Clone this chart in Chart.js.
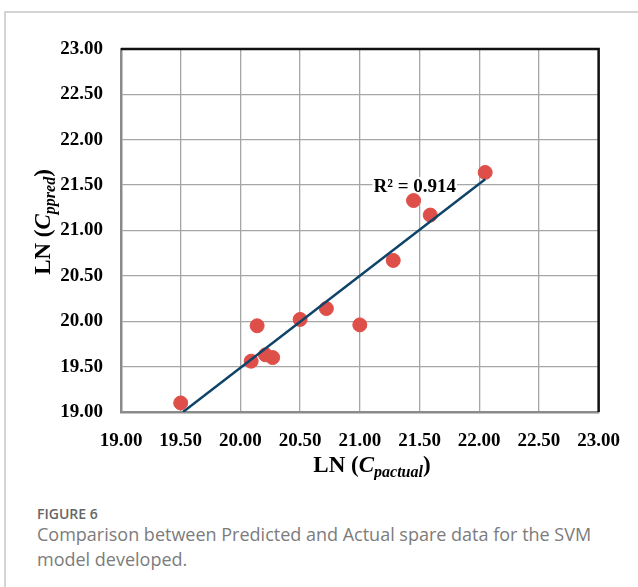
<!DOCTYPE html>
<html>
<head>
<meta charset="utf-8">
<script src="https://cdn.jsdelivr.net/npm/chart.js@4.4.1/dist/chart.umd.min.js"></script>
<style>
  html, body { margin: 0; padding: 0; background: #fff; }
  body { width: 638px; height: 587px; position: relative; overflow: hidden; }
  .frame { position: absolute; left: 4px; top: 11px; width: 700px; height: 700px;
           border-left: 2px solid #d4d4d4; border-top: 2px solid #d4d4d4; }
  .chart-box { position: absolute; left: 0; top: 0; width: 638px; height: 480px; }
  .cap { position: absolute; left: 37px; font-family: "Open Sans", "Noto Sans", sans-serif; }
  .fig { top: 504px; font-size: 14px; font-weight: 600; color: #666; }
  .txt { top: 522px; font-size: 18px; line-height: 25px; color: #7c7c7c; width: 590px; }
</style>
</head>
<body>
<div class="frame"></div>
<div class="chart-box"><canvas id="my-chart" width="638" height="480"></canvas></div>
<div class="cap fig">FIGURE 6</div>
<div class="cap txt">Comparison between Predicted and Actual spare data for the SVM model developed.</div>
<script>
// LN(C_pactual) vs LN(C_ppred)
let actual = [19.50, 20.09, 20.14, 20.21, 20.27, 20.50, 20.72, 21.00, 21.28, 21.45, 21.59, 22.05];
let predicted = [19.10, 19.56, 19.95, 19.63, 19.60, 20.02, 20.14, 19.96, 20.67, 21.33, 21.17, 21.64];
let tickValues = [19, 19.5, 20, 20.5, 21, 21.5, 22, 22.5, 23];
let r2Label = 'R² = 0.914';

// linear trend line (least squares)
let n = actual.length;
let mx = actual.reduce((a, b) => a + b, 0) / n;
let my = predicted.reduce((a, b) => a + b, 0) / n;
let sxy = 0, sxx = 0;
for (let i = 0; i < n; i++) {
    sxy += (actual[i] - mx) * (predicted[i] - my);
    sxx += (actual[i] - mx) ** 2;
}
let slope = sxy / sxx;
let icpt = my - slope * mx;
let xStart = (19 - icpt) / slope;
let xEnd = Math.max(...actual);
let trend = [{ x: xStart, y: 19 }, { x: xEnd, y: icpt + slope * xEnd }];

let serif = '"Liberation Serif", "Times New Roman", serif';

const extras = {
    id: 'extras',
    beforeDatasetsDraw(chart) {
        const { ctx, scales: { x, y } } = chart;
        // R² label with white box
        ctx.save();
        ctx.font = 'bold 19px ' + serif;
        let w = ctx.measureText(r2Label).width;
        let cx = x.getPixelForValue(21.46), cy = y.getPixelForValue(21.48);
        ctx.fillStyle = '#fff';
        ctx.fillRect(cx - w / 2 - 1, cy - 10, w + 2, 20);
        ctx.fillStyle = '#000';
        ctx.textAlign = 'center';
        ctx.textBaseline = 'middle';
        ctx.fillText(r2Label, cx, cy);
        ctx.restore();
    },
    afterDraw(chart) {
        const { ctx, chartArea: a } = chart;
        ctx.save();
        // top and right border
        ctx.strokeStyle = '#111';
        ctx.lineWidth = 2.5;
        ctx.beginPath();
        ctx.moveTo(a.left, a.top);
        ctx.lineTo(a.right, a.top);
        ctx.lineTo(a.right, a.bottom);
        ctx.stroke();

        // axis titles with subscripts
        ctx.fillStyle = '#000';
        ctx.textBaseline = 'alphabetic';
        function title(main, sub, cx, cy) {
            ctx.font = 'bold 23px ' + serif;
            let w1 = ctx.measureText(main).width;
            ctx.font = 'italic bold 23px ' + serif;
            let w2 = ctx.measureText('C').width;
            ctx.font = 'italic bold 16px ' + serif;
            let w3 = ctx.measureText(sub).width;
            ctx.font = 'bold 23px ' + serif;
            let w4 = ctx.measureText(')').width;
            let x0 = cx - (w1 + w2 + w3 + w4) / 2;
            ctx.fillText(main, x0, cy);
            ctx.font = 'italic bold 23px ' + serif;
            ctx.fillText('C', x0 + w1, cy);
            ctx.font = 'italic bold 16px ' + serif;
            ctx.fillText(sub, x0 + w1 + w2, cy + 5);
            ctx.font = 'bold 23px ' + serif;
            ctx.fillText(')', x0 + w1 + w2 + w3, cy);
        }
        title('LN (', 'pactual', 372, 472);
        ctx.translate(50, 222);
        ctx.rotate(-Math.PI / 2);
        title('LN (', 'ppred', 0, 0);
        ctx.restore();
    }
};

new Chart('my-chart', {
    type: 'scatter',
    data: {
        datasets: [
            {
                type: 'line',
                data: trend,
                borderColor: '#0f4469',
                borderWidth: 2.5,
                pointRadius: 0,
                fill: false,
                order: 0
            },
            {
                data: actual.map((v, i) => ({ x: v, y: predicted[i] })),
                backgroundColor: '#df4f49',
                borderColor: '#df4f49',
                pointRadius: 7,
                pointHoverRadius: 7,
                order: 1
            }
        ]
    },
    options: {
        responsive: false,
        animation: false,
        events: [],
        layout: { padding: { left: 0, right: 39, top: 49, bottom: 0 } },
        plugins: { legend: { display: false }, tooltip: { enabled: false } },
        scales: {
            x: {
                type: 'linear',
                min: 19, max: 23,
                afterBuildTicks: s => { s.ticks = tickValues.map(v => ({ value: v })); },
                afterFit: s => { s.height = 68; },
                grid: { color: '#a6a6a6', lineWidth: 1.3, drawTicks: false },
                border: { color: '#8a8a8a', width: 2.5 },
                ticks: {
                    padding: 18,
                    color: '#000',
                    font: { family: serif, size: 19, weight: 'bold' },
                    callback: v => v.toFixed(2)
                }
            },
            y: {
                type: 'linear',
                min: 19, max: 23,
                afterBuildTicks: s => { s.ticks = tickValues.map(v => ({ value: v })); },
                afterFit: s => { s.width = 121; },
                grid: { color: '#a6a6a6', lineWidth: 1.3, drawTicks: false },
                border: { color: '#8a8a8a', width: 2.5 },
                ticks: {
                    padding: 18,
                    color: '#000',
                    font: { family: serif, size: 19, weight: 'bold' },
                    callback: v => v.toFixed(2)
                }
            }
        }
    },
    plugins: [extras]
});
</script>
</body>
</html>
